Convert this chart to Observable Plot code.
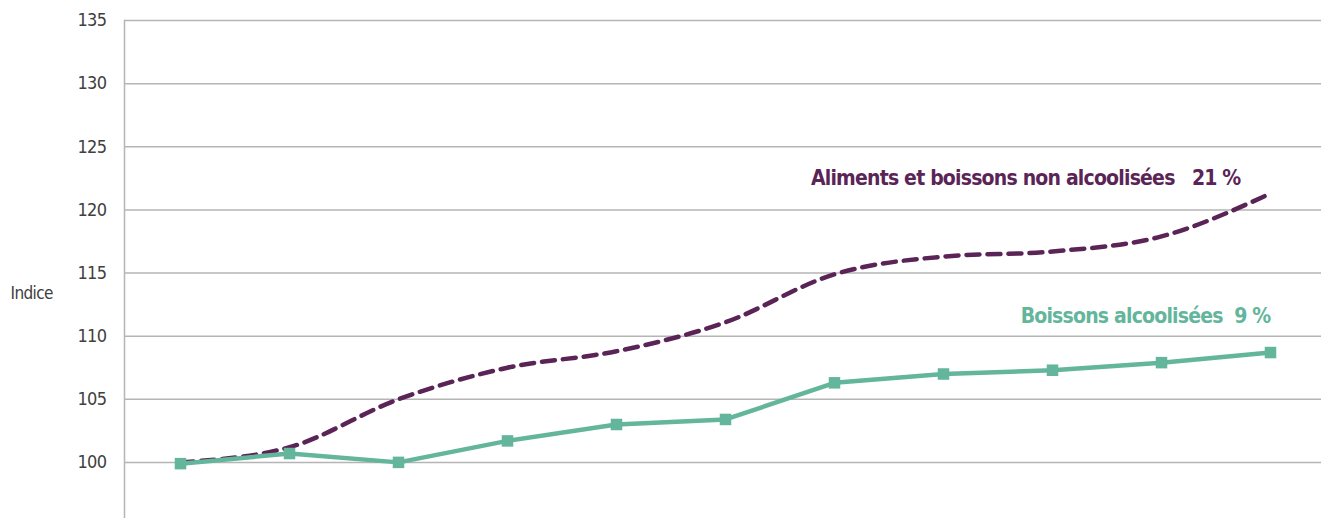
<!DOCTYPE html>
<html>
<head>
<meta charset="utf-8">
<script src="https://cdn.jsdelivr.net/npm/d3@7"></script>
<script src="https://cdn.jsdelivr.net/npm/@observablehq/plot@0.6"></script>
<style>
  html, body { margin: 0; padding: 0; background: #fff; }
  #chart svg { display: block; }
  .series-label text { letter-spacing: -0.8px; }
  .ytick text { letter-spacing: -0.6px; }
</style>
</head>
<body>
<div id="chart"></div>
<script>
const periods = ["2005","2006","2007","2008","2009","2010","2011","2012","2013","2014","2015"];
const alimentsValues = [100.0, 101.2, 105.0, 107.5, 108.8, 111.1, 114.9, 116.3, 116.7, 117.9, 121.3];
const boissonsValues = [99.9, 100.7, 100.0, 101.7, 103.0, 103.4, 106.3, 107.0, 107.3, 107.9, 108.7];
const yTicks = [95, 100, 105, 110, 115, 120, 125, 130, 135];
const alimentsLabel = [{text: "Aliments et boissons non alcoolisées   21 %", period: "2015", value: 122.5}];
const boissonsLabel = [{text: "Boissons alcoolisées  9 %", period: "2015", value: 111.6}];

const aliments = periods.map((p, i) => ({period: p, value: alimentsValues[i]}));
const boissons = periods.map((p, i) => ({period: p, value: boissonsValues[i]}));

const font = "'Liberation Sans Narrow', 'DejaVu Sans Condensed', 'Roboto', sans-serif";
const purple = "#5b2456";
const green = "#63b59b";
const grid = "#b5b5b5";

const chart = Plot.plot({
  width: 1321,
  height: 518,
  marginLeft: 124,
  marginTop: 20,
  marginRight: 0,
  marginBottom: 0,
  style: {fontFamily: font, fontSize: "18px", color: "#404040", background: "#fff", overflow: "hidden"},
  x: {type: "point", domain: periods, range: [124, 1325], padding: 0.5, axis: null},
  y: {domain: [95, 135], range: [525, 20], label: null, axis: null},
  marks: [
    Plot.ruleY(yTicks, {stroke: grid, strokeWidth: 1.5}),
    Plot.frame({anchor: "left", stroke: grid, strokeWidth: 1.5}),
    Plot.axisY({ticks: yTicks, tickSize: 0, tickPadding: 18, fontSize: 18, fill: "#404040", label: null, className: "ytick"}),
    Plot.text(["Indice"], {frameAnchor: "left", dx: -114, dy: 24, textAnchor: "start", fontSize: 17, fill: "#404040", className: "ytick"}),
    Plot.line(aliments, {x: "period", y: "value", stroke: purple, strokeWidth: 4.5, strokeDasharray: "13,8", strokeLinecap: "round", curve: "monotone-x"}),
    Plot.line(boissons, {x: "period", y: "value", stroke: green, strokeWidth: 4.5}),
    Plot.dot(boissons, {x: "period", y: "value", symbol: "square", r: 6.5, fill: green, stroke: "none"}),
    Plot.text(alimentsLabel, {x: "period", y: "value", text: "text", fill: purple, textAnchor: "end", fontWeight: "bold", fontSize: 21, dx: -30, className: "series-label"}),
    Plot.text(boissonsLabel, {x: "period", y: "value", text: "text", fill: green, textAnchor: "end", fontWeight: "bold", fontSize: 21, dx: 0, className: "series-label"})
  ]
});
document.getElementById("chart").appendChild(chart);
</script>
</body>
</html>
